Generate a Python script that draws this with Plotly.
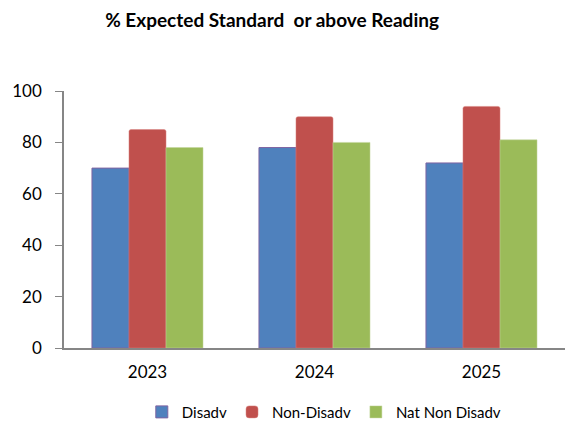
import plotly.graph_objects as go

years = ["2023", "2024", "2025"]
disadv = [70, 78, 72]
non_disadv = [85, 90, 94]
nat_non_disadv = [78, 80, 81]

FONT = "Lato, 'Open Sans', sans-serif"

fig = go.Figure()
fig.add_trace(go.Bar(x=years, y=disadv, name="Disadv",
                     marker=dict(color="#4F81BD", line=dict(color="#7E64A2", width=1))))
fig.add_trace(go.Bar(x=years, y=non_disadv, name="Non-Disadv",
                     marker=dict(color="#C0504D", line=dict(color="#D9827F", width=0.5),
                                 cornerradius=2)))
fig.add_trace(go.Bar(x=years, y=nat_non_disadv, name="Nat Non Disadv",
                     marker=dict(color="#9BBB59", line=dict(color="#C4D79E", width=0.5))))

fig.update_layout(
    width=574, height=424,
    paper_bgcolor="white", plot_bgcolor="white",
    font=dict(family=FONT, color="#000000", size=17),
    title=dict(text="<b>% Expected Standard  or above Reading</b>",
               x=0.474, xanchor="center", y=0.953, yref="container", yanchor="middle",
               automargin=False, font=dict(size=19, family=FONT)),
    margin=dict(l=64, r=9, t=91, b=76, autoexpand=False),
    barmode="group", bargap=0.335, bargroupgap=0,
    showlegend=True,
    legend=dict(orientation="h", x=0.565, xanchor="center", xref="container",
                y=0.028, yref="container", yanchor="middle",
                font=dict(size=15), traceorder="normal", itemwidth=30),
    xaxis=dict(showline=True, linecolor="#868686", linewidth=1.5, automargin=False,
               ticks="", showgrid=False, tickfont=dict(size=17), ticklabelstandoff=8),
    yaxis=dict(range=[0, 100], dtick=20, showline=True, linecolor="#868686",
               linewidth=1.5, ticks="outside", ticklen=7, tickcolor="#868686",
               automargin=False, ticklabelstandoff=10,
               showgrid=False, zeroline=False, tickfont=dict(size=17)),
)

fig.write_html("out.html", config={"displayModeBar": False},
               post_script="document.body.style.margin='0';")
